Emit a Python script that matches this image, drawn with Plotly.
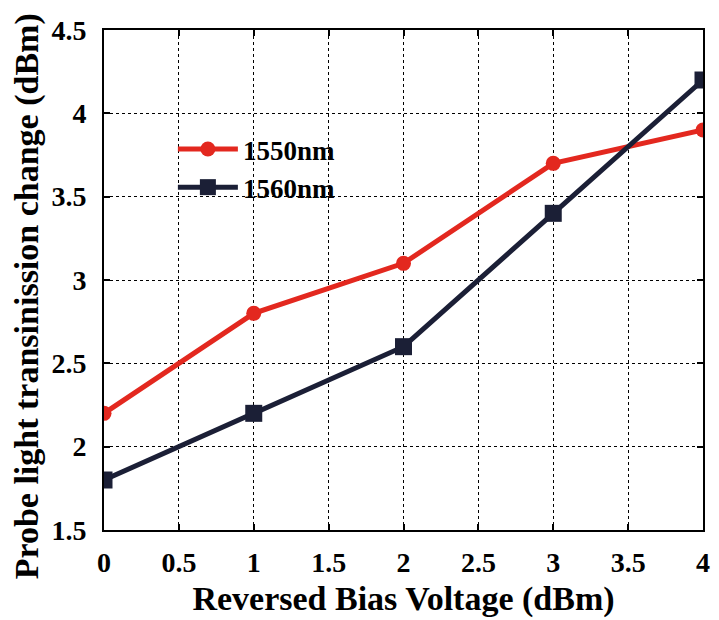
import plotly.graph_objects as go

bias_voltage = [0, 1, 2, 3, 4]
change_1550 = [2.2, 2.8, 3.1, 3.7, 3.9]
change_1560 = [1.8, 2.2, 2.6, 3.4, 4.2]
series_names = ["1550nm", "1560nm"]
x_ticks = [0, 0.5, 1, 1.5, 2, 2.5, 3, 3.5, 4]
x_tick_labels = ["0", "0.5", "1", "1.5", "2", "2.5", "3", "3.5", "4"]
y_ticks = [1.5, 2, 2.5, 3, 3.5, 4, 4.5]
y_tick_labels = ["1.5", "2", "2.5", "3", "3.5", "4", "4.5"]
x_title = "Reversed Bias Voltage (dBm)"
y_title = "Probe light transinission change (dBm)"

RED = "#e3281f"
NAVY = "#1b1f36"
FONT = "Liberation Serif, Times New Roman, serif"

fig = go.Figure()
fig.add_trace(go.Scatter(
    x=bias_voltage, y=change_1550, name="<b>" + series_names[0] + "</b>",
    mode="lines+markers",
    line=dict(color=RED, width=5),
    marker=dict(symbol="circle", size=15, color=RED),
))
fig.add_trace(go.Scatter(
    x=bias_voltage, y=change_1560, name="<b>" + series_names[1] + "</b>",
    mode="lines+markers",
    line=dict(color=NAVY, width=5),
    marker=dict(symbol="square", size=17, color=NAVY),
))

axis_common = dict(
    showline=True, linecolor="black", linewidth=2, mirror="ticks",
    showgrid=True, gridcolor="black", gridwidth=1.3, griddash="dot",
    ticks="inside", ticklen=6, tickcolor="black", tickwidth=1.5,
    zeroline=False,
    tickfont=dict(family=FONT, size=28, color="black"),
)

fig.update_xaxes(
    range=[0, 4], tickvals=x_ticks,
    ticktext=["<b>" + t + "</b>" for t in x_tick_labels],
    title=dict(text="<b>" + x_title + "</b>", standoff=10,
               font=dict(family=FONT, size=34, color="black")),
    ticklabelstandoff=6,
    **axis_common,
)
fig.update_yaxes(
    range=[1.5, 4.5], tickvals=y_ticks,
    ticktext=["<b>" + t + "</b>" for t in y_tick_labels],
    ticklabelstandoff=10,
    **axis_common,
)

fig.add_annotation(
    text="<b>" + y_title + "</b>", textangle=-90,
    xref="paper", yref="paper", x=-0.128, y=0.468,
    xanchor="center", yanchor="middle", showarrow=False,
    font=dict(family=FONT, size=34, color="black"),
)

fig.update_layout(
    width=719, height=620,
    margin=dict(l=104, r=9, t=30, b=87),
    paper_bgcolor="white", plot_bgcolor="white",
    showlegend=True,
    legend=dict(
        x=0.115, y=0.81, xanchor="left", yanchor="top",
        bgcolor="rgba(0,0,0,0)", borderwidth=0,
        itemwidth=60,
        font=dict(family=FONT, size=27, color="black"),
    ),
)

fig.write_html("out.html")
